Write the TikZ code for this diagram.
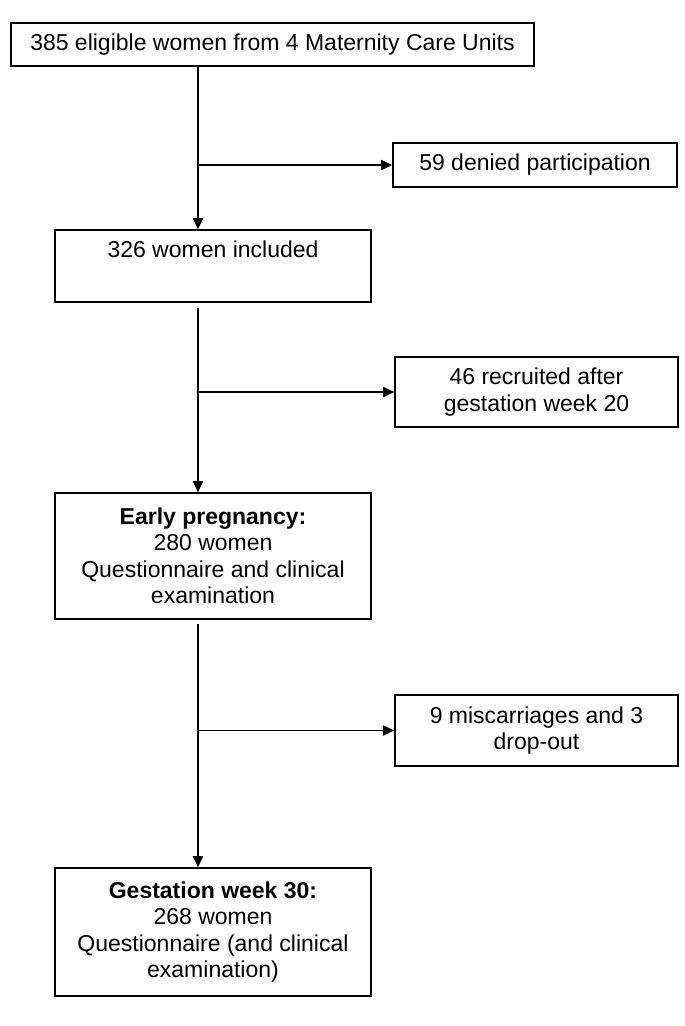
\documentclass[tikz,border=0pt]{standalone}
\usepackage{fontspec}
\setmainfont{Liberation Sans}
\usetikzlibrary{arrows.meta}
\begin{document}
\begin{tikzpicture}[x=1pt,y=-1pt,
  box/.style={draw, line width=1.6pt, inner sep=0pt, align=center,
    font=\fontsize{23}{26.5}\selectfont},
  conn/.style={line width=1.8pt},
  arr/.style={conn, -{Triangle[length=11pt,width=10pt]}}]
\useasboundingbox (0,0) rectangle (685,1026);
\node[box, minimum width=523pt, minimum height=43pt] (b1) at (272.5,44.5)
  {385 eligible women from 4 Maternity Care Units};
\node[box, minimum width=284pt, minimum height=44pt] (b59) at (535,165)
  {59 denied participation};
\node[box, minimum width=316pt, minimum height=72pt] (b2) at (213,266)
  {326 women included\\\strut};
\node[box, minimum width=283pt, minimum height=70pt] (b46) at (536.5,392)
  {46 recruited after\\gestation week 20};
\node[box, minimum width=316pt, minimum height=126pt] (b3) at (213,556)
  {\textbf{Early pregnancy:}\\280 women\\Questionnaire and clinical\\examination};
\node[box, minimum width=283pt, minimum height=71pt] (b9) at (536.5,730.5)
  {9 miscarriages and 3\\drop-out};
\node[box, minimum width=316pt, minimum height=128pt] (b4) at (213,932)
  {\textbf{Gestation week 30:}\\268 women\\Questionnaire (and clinical\\examination)};
\coordinate (spine) at (198,0);
\coordinate (j1) at (spine |- b59.west);
\coordinate (j2) at (spine |- b46.west);
\coordinate (j3) at (spine |- b9.west);
\draw[arr] (b1.south -| spine) -- (b2.north -| spine);
\draw[arr] (j1) -- (b59.west);
\draw[arr, shorten <=5pt] (b2.south -| spine) -- (b3.north -| spine);
\draw[arr] (j2) -- (b46.west);
\draw[arr, shorten <=4pt] (b3.south -| spine) -- (b4.north -| spine);
\draw[arr] (j3) -- (b9.west);
\end{tikzpicture}
\end{document}
